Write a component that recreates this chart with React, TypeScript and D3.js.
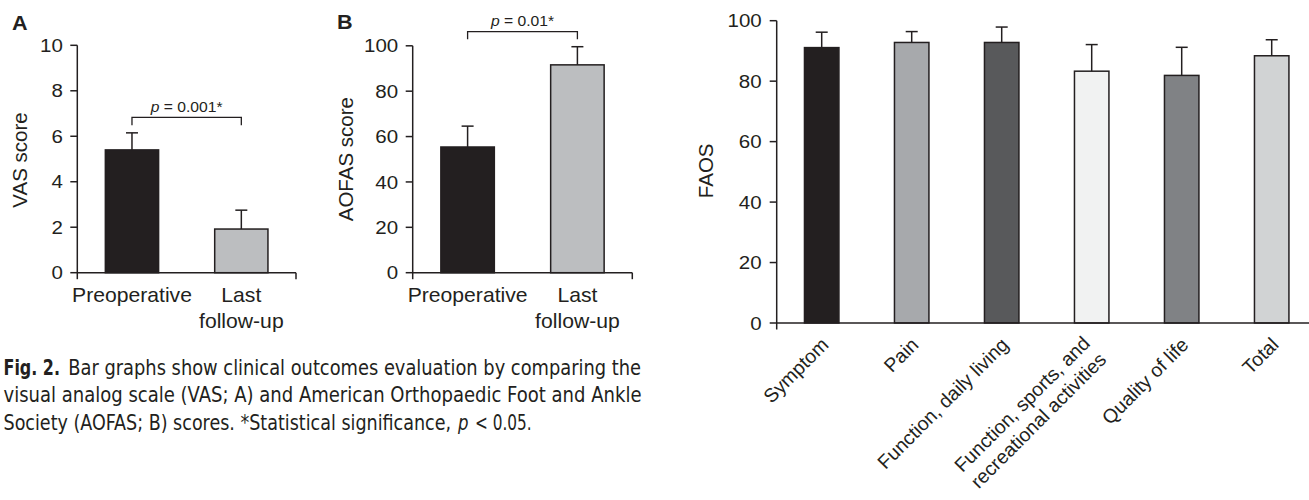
import React, { useLayoutEffect, useRef, useState } from "react";
import * as d3 from "d3";

// ---------- data ----------
const vasCategories = ["Preoperative", "Last follow-up"];
const vasLabelLines = [["Preoperative"], ["Last", "follow-up"]];
const vasMeans = [5.4, 1.92];
const vasSD = [0.75, 0.83];
const vasTicks = [0, 2, 4, 6, 8, 10];
const vasP = "0.001*";

const aofasCategories = ["Preoperative", "Last follow-up"];
const aofasLabelLines = [["Preoperative"], ["Last", "follow-up"]];
const aofasMeans = [55.4, 91.6];
const aofasSD = [9.2, 8.0];
const aofasTicks = [0, 20, 40, 60, 80, 100];
const aofasP = "0.01*";

const faosCategories = [
  "Symptom",
  "Pain",
  "Function, daily living",
  "Function, sports, and recreational activities",
  "Quality of life",
  "Total",
];
const faosLabelLines = [
  ["Symptom"],
  ["Pain"],
  ["Function, daily living"],
  ["Function, sports, and", "recreational activities"],
  ["Quality of life"],
  ["Total"],
];
const faosMeans = [91.1, 92.8, 92.8, 83.3, 81.9, 88.4];
const faosSD = [5.1, 3.6, 5.1, 8.8, 9.3, 5.3];
const faosTicks = [0, 20, 40, 60, 80, 100];

const twoColors = ["#231f20", "#bcbec0"];
const faosColors = ["#231f20", "#a7a9ac", "#58595b", "#f1f2f2", "#808285", "#d1d3d4"];

// ---------- styles ----------
const INK = "#231f20";
const FONT = "'Liberation Sans', Arial, Helvetica, sans-serif";
const CAP_FONT = "'Liberation Sans Narrow', 'DejaVu Sans Condensed', 'Liberation Sans', Arial, sans-serif";
const SX = 1.08;

function HText({ x, y, anchor = "start", size, weight = "normal", children }: any) {
  return (
    <text
      transform={`translate(${x},${y}) scale(${SX},1)`}
      textAnchor={anchor}
      fontSize={size}
      fontWeight={weight}
      fontFamily={FONT}
      fill={INK}
    >
      {children}
    </text>
  );
}

// Text squeezed horizontally to span an exact width (condensed caption face)
function FitText({ x, y, width, size = 21, weight = "normal", italic = false, children }: any) {
  const ref = useRef<SVGTextElement>(null);
  const [sx, setSx] = useState(1);
  useLayoutEffect(() => {
    if (ref.current) {
      const w = ref.current.getComputedTextLength();
      if (w > 0) setSx(width / w);
    }
  }, [width, children]);
  return (
    <text
      ref={ref}
      transform={`translate(${x},${y}) scale(${sx},1)`}
      fontSize={size}
      fontWeight={weight}
      fontStyle={italic ? "italic" : "normal"}
      fontFamily={CAP_FONT}
      fill={INK}
    >
      {children}
    </text>
  );
}

function BarPanel({
  cats, labelLines, means, sds, ticks, colors, axisX, xEnd, yTop, yBottom,
  padInner, title, titleX, titleY, labelRightGap, letter, letterX, letterY,
  bracket, rotatedLabels,
}: any) {
  const x = d3.scaleBand<string>().domain(cats).range([axisX, xEnd])
    .paddingInner(padInner).paddingOuter(padInner / 2);
  const y = d3.scaleLinear().domain([ticks[0], ticks[ticks.length - 1]]).range([yBottom, yTop]);
  const bw = x.bandwidth();
  const cx = (c: string) => (x(c) as number) + bw / 2;
  return (
    <g>
      {letter && (
        <HText x={letterX} y={letterY} size={20} weight="bold">{letter}</HText>
      )}
      <text
        transform={`translate(${titleX},${titleY}) rotate(-90)`}
        textAnchor="middle"
        fontSize={20.5}
        fontFamily={FONT}
        fill={INK}
      >
        {title}
      </text>
      {cats.map((c: string, i: number) => (
        <rect
          key={c}
          x={x(c)}
          y={y(means[i])}
          width={bw}
          height={y(0) - y(means[i])}
          fill={colors[i]}
          stroke={INK}
          strokeWidth={1.5}
        />
      ))}
      {cats.map((c: string, i: number) => (
        <g key={c + "e"} stroke={INK} strokeWidth={1.5}>
          <line x1={cx(c)} x2={cx(c)} y1={y(means[i])} y2={y(means[i] + sds[i])} />
          <line x1={cx(c) - 6} x2={cx(c) + 6} y1={y(means[i] + sds[i])} y2={y(means[i] + sds[i])} />
        </g>
      ))}
      <line x1={axisX} x2={axisX} y1={yTop} y2={yBottom + 6.5} stroke={INK} strokeWidth={1.5} />
      {ticks.map((t: number) => (
        <g key={t}>
          <line x1={axisX - 7} x2={axisX} y1={y(t)} y2={y(t)} stroke={INK} strokeWidth={1.5} />
          <HText x={axisX - labelRightGap} y={y(t) + 6.6} anchor="end" size={19}>{t}</HText>
        </g>
      ))}
      <line x1={axisX} x2={xEnd} y1={yBottom} y2={yBottom} stroke={INK} strokeWidth={1.5} />
      <line x1={xEnd} x2={xEnd} y1={yBottom} y2={yBottom + 6.5} stroke={INK} strokeWidth={1.5} />
      {cats.map((c: string, i: number) => {
        const lines = labelLines[i];
        if (rotatedLabels) {
          const multi = lines.length > 1;
          return (
            <g key={c + "l"} transform={`translate(${cx(c) + 8},${yBottom + 23}) rotate(-45)`}>
              {lines.map((ln: string, j: number) => (
                <text
                  key={j}
                  x={multi ? -5 : 0}
                  y={multi ? -7 + j * 23 : 0}
                  textAnchor="end"
                  fontSize={19.5}
                  fontFamily={FONT}
                  fill={INK}
                >
                  {ln}
                </text>
              ))}
            </g>
          );
        }
        return (
          <g key={c + "l"}>
            {lines.map((ln: string, j: number) => (
              <HText key={j} x={cx(c)} y={yBottom + 29 + j * 26} anchor="middle" size={19.6}>{ln}</HText>
            ))}
          </g>
        );
      })}
      {bracket && (
        <g>
          <path
            d={`M${cx(cats[0])},${bracket.legY} V${bracket.y} H${cx(cats[1])} V${bracket.legY}`}
            fill="none"
            stroke={INK}
            strokeWidth={1.3}
          />
          <HText x={(cx(cats[0]) + cx(cats[1])) / 2} y={bracket.textY} anchor="middle" size={14.5}>
            <tspan fontStyle="italic">p</tspan>
            {" = " + bracket.p}
          </HText>
        </g>
      )}
    </g>
  );
}

export default function App() {
  return (
    <svg
      width={1309}
      height={500}
      style={{ position: "absolute", left: 0, top: 0, background: "#fff" }}
    >
      <rect x={0} y={0} width={1309} height={500} fill="#fff" />
      <BarPanel
        cats={vasCategories}
        labelLines={vasLabelLines}
        means={vasMeans}
        sds={vasSD}
        ticks={vasTicks}
        colors={twoColors}
        axisX={77.3}
        xEnd={296}
        yTop={45.3}
        yBottom={272.7}
        padInner={0.513}
        title="VAS score"
        titleX={26.7}
        titleY={160}
        labelRightGap={14.5}
        letter="A"
        letterX={12}
        letterY={30}
        bracket={{ y: 117.3, legY: 125.3, textY: 112, p: vasP }}
      />
      <BarPanel
        cats={aofasCategories}
        labelLines={aofasLabelLines}
        means={aofasMeans}
        sds={aofasSD}
        ticks={aofasTicks}
        colors={twoColors}
        axisX={412.7}
        xEnd={632.3}
        yTop={45.8}
        yBottom={272.7}
        padInner={0.513}
        title="AOFAS score"
        titleX={353.3}
        titleY={159.2}
        labelRightGap={14.5}
        letter="B"
        letterX={337}
        letterY={29.3}
        bracket={{ y: 31.7, legY: 39.3, textY: 26, p: aofasP }}
      />
      <BarPanel
        cats={faosCategories}
        labelLines={faosLabelLines}
        means={faosMeans}
        sds={faosSD}
        ticks={faosTicks}
        colors={faosColors}
        axisX={776.7}
        xEnd={1316.7}
        yTop={20.7}
        yBottom={323}
        padInner={0.617}
        title="FAOS"
        titleX={713.3}
        titleY={170.8}
        labelRightGap={15}
        rotatedLabels
      />
      {/* caption */}
      <FitText x={3.5} y={374.5} width={56.5} weight="bold">Fig. 2.</FitText>
      <FitText x={68.3} y={374.5} width={573.4}>
        Bar graphs show clinical outcomes evaluation by comparing the
      </FitText>
      <FitText x={3.5} y={402} width={638.2}>
        visual analog scale (VAS; A) and American Orthopaedic Foot and Ankle
      </FitText>
      <FitText x={3.5} y={430} width={448}>
        Society (AOFAS; B) scores. *Statistical significance,
      </FitText>
      <FitText x={458} y={430} width={10.5} italic>p</FitText>
      <FitText x={475} y={430} width={56.7}>{"< 0.05."}</FitText>
    </svg>
  );
}
